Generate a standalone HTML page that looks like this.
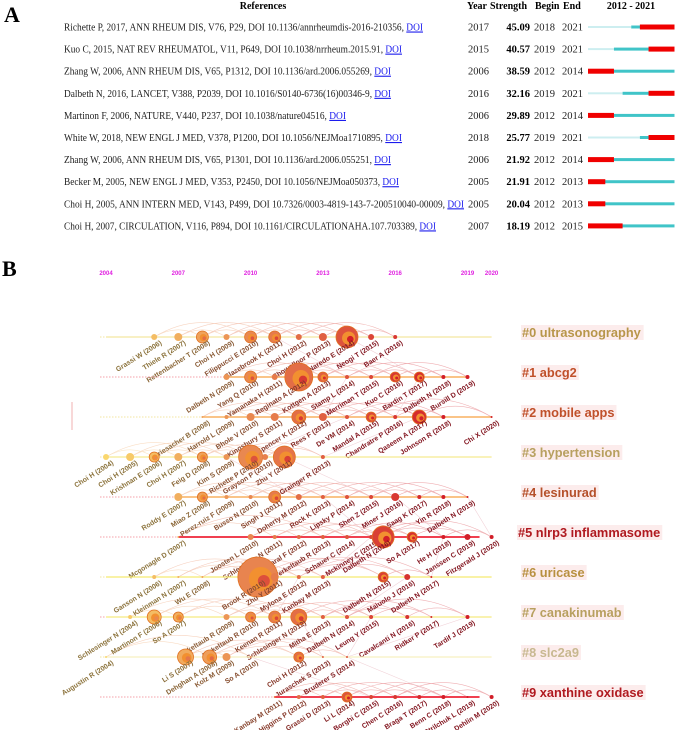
<!DOCTYPE html>
<html><head><meta charset="utf-8"><style>
body{margin:0;background:#fff;}
svg{display:block;font-family:"Liberation Serif",serif;}
.nl{font-family:"Liberation Sans",sans-serif;font-weight:bold;font-size:7px;}
.cl{font-family:"Liberation Sans",sans-serif;font-weight:bold;font-size:12.8px;}
</style></head><body>
<svg id="fig" width="676" height="730" viewBox="0 0 676 730" xmlns="http://www.w3.org/2000/svg">
<text x="4" y="22" font-size="22" font-weight="bold">A</text>
<g id="panelA"></g>
<text x="2" y="276" font-size="22" font-weight="bold">B</text>
<g id="panelB"></g>
</svg>
<script>
const NS="http://www.w3.org/2000/svg";
function mk(t,a,p){const e=document.createElementNS(NS,t);for(const k in a)e.setAttribute(k,a[k]);p.appendChild(e);return e;}
// ---- Panel A data
const refs=["Richette P, 2017, ANN RHEUM DIS, V76, P29, DOI 10.1136/annrheumdis-2016-210356, ","Kuo C, 2015, NAT REV RHEUMATOL, V11, P649, DOI 10.1038/nrrheum.2015.91, ","Zhang W, 2006, ANN RHEUM DIS, V65, P1312, DOI 10.1136/ard.2006.055269, ","Dalbeth N, 2016, LANCET, V388, P2039, DOI 10.1016/S0140-6736(16)00346-9, ","Martinon F, 2006, NATURE, V440, P237, DOI 10.1038/nature04516, ","White W, 2018, NEW ENGL J MED, V378, P1200, DOI 10.1056/NEJMoa1710895, ","Zhang W, 2006, ANN RHEUM DIS, V65, P1301, DOI 10.1136/ard.2006.055251, ","Becker M, 2005, NEW ENGL J MED, V353, P2450, DOI 10.1056/NEJMoa050373, ","Choi H, 2005, ANN INTERN MED, V143, P499, DOI 10.7326/0003-4819-143-7-200510040-00009, ","Choi H, 2007, CIRCULATION, V116, P894, DOI 10.1161/CIRCULATIONAHA.107.703389, "];
const refYears=[2017,2015,2006,2016,2006,2018,2006,2005,2005,2007];
const strengths=["45.09","40.57","38.59","32.16","29.89","25.77","21.92","21.91","20.04","18.19"];
const begins=[2018,2019,2012,2019,2012,2019,2012,2012,2012,2012];
const ends=[2021,2021,2014,2021,2014,2021,2014,2013,2013,2015];
const refEndX=[423,402,391,391,346,402,391,399,464,436];
const A=document.getElementById('panelA');
const hdr=[["References",263,"middle"],["Year",467,"start"],["Strength",490,"start"],["Begin",535,"start"],["End",563,"start"],["2012 - 2021",631,"middle"]];
hdr.forEach(h=>{const t=mk('text',{x:h[1],y:9,'font-size':10,'font-weight':'bold','text-anchor':h[2]},A);t.textContent=h[0];

});
const bx=y=>588+(y-2012)*8.65;
refs.forEach((r,i)=>{const cy=27+i*22.1;
const t=mk('text',{x:64,y:cy+3.5,'font-size':11,textLength:refEndX[i]-64,lengthAdjust:'spacingAndGlyphs',fill:'#222'},A);


t.appendChild(document.createTextNode(r));
const d=mk('tspan',{fill:'#1a1aee','text-decoration':'underline'},t);d.textContent='DOI';


const yt=mk('text',{x:468,y:cy+3.5,'font-size':10.5,fill:'#222'},A);yt.textContent=refYears[i];


const st=mk('text',{x:530,y:cy+3.5,'font-size':10.5,'font-weight':'bold','text-anchor':'end'},A);st.textContent=strengths[i];


const bt=mk('text',{x:534,y:cy+3.5,'font-size':10.5,fill:'#222'},A);bt.textContent=begins[i];


const et=mk('text',{x:562,y:cy+3.5,'font-size':10.5,fill:'#222'},A);et.textContent=ends[i];


const py=Math.max(2012,refYears[i]);
if(py>2012){const l=mk('rect',{x:bx(2012),y:cy-1,width:bx(py)-bx(2012),height:2,fill:'#cdeef0'},A);

}
const tl=mk('rect',{x:bx(py),y:cy-1.5,width:bx(2022)-bx(py),height:3,fill:'#40c4c8'},A);


const rd=mk('rect',{x:bx(begins[i]),y:cy-2.5,width:bx(ends[i]+1)-bx(begins[i]),height:5,fill:'#f00000'},A);


});
// ---- Panel B data
const yearTicks=[2004,2007,2010,2013,2016,2019,2020];
const clusterNames=["#0 ultrasonography","#1 abcg2","#2 mobile apps","#3 hypertension","#4 lesinurad","#5 nlrp3 inflammasome","#6 uricase","#7 canakinumab","#8 slc2a9","#9 xanthine oxidase"];
const clusterColors=["#b8964a","#c0502a","#c0502a","#b8a060","#b5502a","#b01a20","#b89040","#b8a060","#c8b890","#b01a20"];
const lineColors=["#f3e6a0","#f7a040","#f7a040","#f5ea90","#f7a040","#f04050","#f5ea70","#f5ea80","#f7f0c0","#f04050"];
const lineStart=[2004,2009,2008,2004,2007,2007,2004,2004,2004,2011];
const lineEnd=[2020,2019,2020,2020,2019,2019.5,2020,2020,2020,2019.5];
const c0=[["Grassi W (2006)",2006,3],["Thiele R (2007)",2007,4],["Rettenbacher T (2008)",2008,6],["Choi H (2009)",2009,3],["Filippucci E (2010)",2010,6],["Glazebrook K (2011)",2011,6],["Choi H (2012)",2012,3],["Chowalloor P (2013)",2013,4],["Naredo E (2014)",2014,11],["Neogi T (2015)",2015,3],["Baer A (2016)",2016,2]];
const c1=[["Dalbeth N (2009)",2009,3],["Yang Q (2010)",2010,6],["Yamanaka H (2011)",2011,3],["Reginato A (2012)",2012,14],["Kottgen A (2013)",2013,5],["Stamp L (2014)",2014,2],["Merriman T (2015)",2015,2],["Kuo C (2016)",2016,5],["Bardin T (2017)",2017,5],["Dalbeth N (2018)",2018,2],["Bursill D (2019)",2019,2]];
const c2=[["Briesacher B (2008)",2008,1],["Harrold L (2009)",2009,2],["Bhole V (2010)",2010,4],["Kingsbury S (2011)",2011,4],["Spencer K (2012)",2012,7],["Rees F (2013)",2013,4],["De VM (2014)",2014,2],["Mandal A (2015)",2015,5],["Chandratre P (2016)",2016,2],["Qaseem A (2017)",2017,7],["Johnson R (2018)",2018,2],["Chi X (2020)",2020,1]];
const c3=[["Choi H (2004)",2004,3],["Choi H (2005)",2005,4],["Krishnan E (2006)",2006,5],["Choi H (2007)",2007,4],["Feig D (2008)",2008,5],["Kim S (2009)",2009,3],["Richette P (2010)",2010,12],["Grayson P (2010)",2010.6,3],["Zhu Y (2011)",2011.4,11],["Grainger R (2013)",2013,2]];
const c4=[["Roddy E (2007)",2007,4],["Miao Z (2008)",2008,5],["Perez-ruiz F (2009)",2009,2],["Busso N (2010)",2010,2],["Singh J (2011)",2011,6],["Doherty M (2012)",2012,3],["Rock K (2013)",2013,2],["Lipsky P (2014)",2014,2],["Shen Z (2015)",2015,2],["Miner J (2016)",2016,4],["Saag K (2017)",2017,2],["Yin R (2018)",2018,2],["Dalbeth N (2019)",2019,1]];
const c5=[["Mcgonagle D (2007)",2007,1],["Joosten L (2010)",2010,3],["Schlesinger N (2011)",2011,2],["Amaral F (2012)",2012,2],["Terkeltaub R (2013)",2013,2],["Schauer C (2014)",2014,2],["Mckinney C (2015)",2015,2],["Dalbeth N (2016)",2015.5,11],["So A (2017)",2016.7,5],["He H (2018)",2018,2],["Janssen C (2019)",2019,3],["Fitzgerald J (2020)",2020,2]];
const c6=[["Ganson N (2006)",2006,2],["Kleinman N (2007)",2007,1],["Wu E (2008)",2008,1],["Brook R (2010)",2010.3,20],["Zhu Y (2011)",2011,4],["Mylona E (2012)",2012,2],["Kanbay M (2013)",2013,2],["Dalbeth N (2015)",2015.5,5],["Maiuolo J (2016)",2016.5,3],["Dalbeth N (2017)",2017.5,1]];
const c7=[["Schlesinger N (2004)",2005,2],["Martinon F (2006)",2006,7],["So A (2007)",2007,5],["Terkeltaub R (2009)",2009,3],["Terkeltaub R (2010)",2010,5],["Keenan R (2011)",2011,6],["Schlesinger N (2012)",2012,8],["Mitha E (2013)",2013,2],["Dalbeth N (2014)",2014,2],["Leung Y (2015)",2015,2],["Cavalcanti N (2016)",2016.5,2],["Ridker P (2017)",2017.5,1],["Tardif J (2019)",2019,2]];
const c8=[["Augustin R (2004)",2004,1],["Li S (2007)",2007.3,8],["Dehghan A (2008)",2008.3,7],["Kolz M (2009)",2009,4],["So A (2010)",2010,1],["Choi H (2012)",2012,5],["Juraschek S (2013)",2013,1],["Bruderer S (2014)",2014,1]];
const c9=[["Kanbay M (2011)",2011,1],["Higgins P (2012)",2012,2],["Grassi D (2013)",2013,2],["Li L (2014)",2014,5],["Borghi C (2015)",2015,2],["Chen C (2016)",2016,2],["Braga T (2017)",2017,2],["Benn C (2018)",2018,2],["Strilchuk L (2019)",2019,1],["Dehlin M (2020)",2020,2]];
const clusters=[c0,c1,c2,c3,c4,c5,c6,c7,c8,c9];
const xS=y=>106+(y-2004)*24.1;
const yS=i=>337+i*40;
function yearColor(y){const t=Math.min(1,Math.max(0,(y-2004)/14));
return 'rgb('+Math.round(250-40*t)+','+Math.round(215-185*t)+','+Math.round(110-70*t)+')';}
function labelColor(y){const t=Math.min(1,Math.max(0,(y-2007)/8));return 'rgb('+Math.round(140-10*t)+','+Math.round(115-95*t)+','+Math.round(60-30*t)+')';}
const B=document.getElementById('panelB');
yearTicks.forEach(y=>{const t=mk('text',{x:xS(y),y:275,'font-size':6,'font-weight':'bold',fill:'#e020e0','text-anchor':'middle','font-family':'Liberation Sans,sans-serif'},B);t.textContent=y;

});
const vl=mk('line',{x1:72,y1:402,x2:72,y2:430,stroke:'#f0b0b0','stroke-width':1},B);


const arcs=mk('g',{fill:'none','stroke-width':0.6,opacity:0.35},B);


for(let i=0;i<9;i++){const a=clusters[i],b=clusters[i+1];
for(let k=Math.floor(a.length/2);k<a.length;k+=3){const n=a[k];const m=b[Math.min(b.length-1,k)];
const p=mk('path',{d:`M${xS(n[1])},${yS(i)} L${xS(m[1])},${yS(i+1)}`,stroke:'#d88090'},arcs);

}}
clusters.forEach((c,i)=>{const y=yS(i);
const dl=mk('line',{x1:100,y1:y,x2:xS(lineStart[i]),y2:y,stroke:i%3==1||i==5||i==9?'#f4a0a8':'#f3e6a0','stroke-width':1,'stroke-dasharray':'1.5,1.5'},B);


const sl=mk('line',{x1:xS(lineStart[i]),y1:y,x2:xS(lineEnd[i]),y2:y,stroke:lineColors[i],'stroke-width':i==5||i==9?2:1.2},B);


c.forEach((n,k)=>{for(let j=k+2;j<Math.min(c.length,k+5);j+=2){const x1=xS(n[1]),x2=xS(c[j][1]);const h=(x2-x1)*0.3;
const p=mk('path',{d:`M${x1},${y} Q${(x1+x2)/2},${y-h} ${x2},${y}`,stroke:yearColor(c[j][1])},arcs);

}});
c.forEach(n=>{const x=xS(n[1]);const r=n[2];
const g=mk('g',{},B);


mk('circle',{cx:x,cy:y,r:r,fill:yearColor(n[1]),stroke:r>4?'#e07020':'none','stroke-width':0.8},g);
if(r>4){mk('circle',{cx:x+r*0.15,cy:y+r*0.1,r:r*0.6,fill:'#f29030'},g);mk('circle',{cx:x+r*0.3,cy:y+r*0.2,r:r*0.3,fill:yearColor(n[1]+4)},g);}
const t=mk('text',{class:'nl',x:x+8,y:y+7,'text-anchor':'end',fill:labelColor(n[1]),transform:`rotate(-32 ${x+8} ${y+7})`},g);t.textContent=n[0];});
const tt=mk('text',{class:'cl',x:i==5?518:522,y:y,fill:clusterColors[i]},B);tt.textContent=clusterNames[i];
const bb=tt.getBBox();
const bg=mk('rect',{x:bb.x-1,y:bb.y,width:bb.width+3,height:bb.height,fill:'#fcecec'},B);
B.insertBefore(bg,tt);




});
</script>
</body></html>
